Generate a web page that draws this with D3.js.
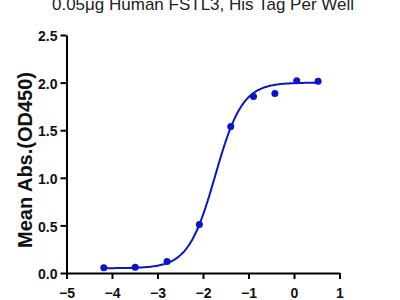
<!DOCTYPE html>
<html>
<head>
<meta charset="utf-8">
<script src="https://cdn.jsdelivr.net/npm/d3@7"></script>
<style>
  body { margin: 0; background: #fff; }
  text { font-family: "Liberation Sans", Arial, sans-serif; }
</style>
</head>
<body>
<div id="graf"></div>
<script>
// puntos medidos (log concentración, absorbancia)
const logConc = [-4.18, -3.49, -2.79, -2.08, -1.39, -0.89, -0.42, 0.06, 0.53];
const absorb = [0.055, 0.06, 0.12, 0.51, 1.54, 1.855, 1.885, 2.02, 2.015];

// parámetros del ajuste 4PL
const fitBottom = 0.05;
const fitTop = 2.0;
const fitLogEC50 = -1.73;
const fitHill = 1.46;

const xTicks = [-5, -4, -3, -2, -1, 0, 1];
const yTicks = [0, 0.5, 1.0, 1.5, 2.0, 2.5];

const titulo = "0.05μg Human FSTL3, His Tag Per Well";
const yLabel = "Mean Abs.(OD450)";

const ancho_total = 400;
const alto_total = 300;
const margins = { top: 35, left: 66.5, right: 60.5, bottom: 27 };
const ancho = ancho_total - margins.left - margins.right;
const alto = alto_total - margins.top - margins.bottom;

const color = "#0a14c8";

const svg = d3.select("#graf")
  .append("svg")
  .attr("width", ancho_total)
  .attr("height", alto_total);

const g = svg.append("g")
  .attr("transform", `translate(${margins.left}, ${margins.top})`);

const x = d3.scaleLinear().domain([-5, 1]).range([0, ancho]);
const y = d3.scaleLinear().domain([0, 2.5]).range([alto, 0]);

const xAxisCall = d3.axisBottom(x).tickValues(xTicks).tickSize(6).tickSizeOuter(0)
  .tickFormat(d3.format("d"));
const xAxisGroup = g.append("g")
  .attr("transform", `translate(0, ${alto})`)
  .call(xAxisCall);

const yAxisCall = d3.axisLeft(y).tickValues(yTicks).tickSize(6).tickSizeOuter(0)
  .tickFormat(d3.format(".1f"));
const yAxisGroup = g.append("g").call(yAxisCall);

[xAxisGroup, yAxisGroup].forEach(ax => {
  ax.select(".domain").attr("stroke", "#000").attr("stroke-width", 2);
  ax.selectAll(".tick line").attr("stroke", "#000").attr("stroke-width", 2);
  ax.selectAll(".tick text")
    .attr("fill", "#111")
    .style("font-size", "14px")
    .style("font-weight", "bold");
});
xAxisGroup.selectAll(".tick text").attr("dy", 0).attr("y", 25);
yAxisGroup.selectAll(".tick text").attr("x", -9).attr("dy", "0.4em");

// curva ajustada
const fourPL = v => fitBottom + (fitTop - fitBottom) / (1 + Math.pow(10, fitHill * (fitLogEC50 - v)));
const curva = d3.range(0, 201).map(i => {
  const v = logConc[0] + (logConc[logConc.length - 1] - logConc[0]) * i / 200;
  return [v, fourPL(v)];
});

g.append("path")
  .datum(curva)
  .attr("fill", "none")
  .attr("stroke", color)
  .attr("stroke-width", 2)
  .attr("d", d3.line().x(d => x(d[0])).y(d => y(d[1])));

g.selectAll("circle")
  .data(logConc.map((v, i) => [v, absorb[i]]))
  .enter()
  .append("circle")
  .attr("cx", d => x(d[0]))
  .attr("cy", d => y(d[1]))
  .attr("r", 3.5)
  .attr("fill", color);

svg.append("text")
  .attr("x", 203)
  .attr("y", 10)
  .attr("text-anchor", "middle")
  .style("font-size", "17px")
  .attr("fill", "#222")
  .text(titulo);

svg.append("text")
  .attr("transform", `translate(32, 160) rotate(-90)`)
  .attr("text-anchor", "middle")
  .style("font-size", "20px")
  .style("font-weight", "bold")
  .attr("fill", "#111")
  .text(yLabel);
</script>
</body>
</html>
